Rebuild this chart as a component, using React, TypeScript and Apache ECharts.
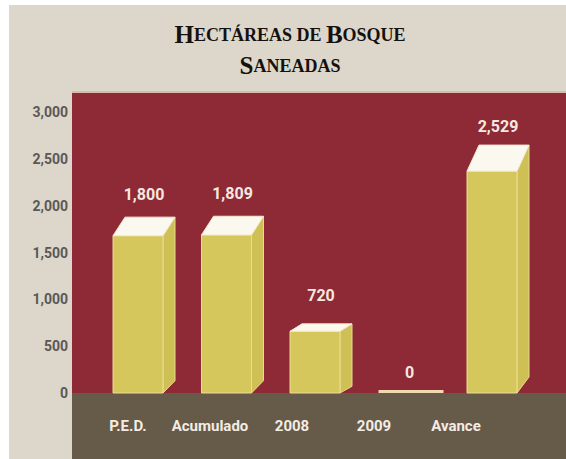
import React, { useEffect, useRef } from "react";
import * as echarts from "echarts";

const categories = ["P.E.D.", "Acumulado", "2008", "2009", "Avance"];
const values = [1800, 1809, 720, 0, 2529];
const yMin = 0;
const yMax = 3000;
const yStep = 500;

const SANS = "Roboto, 'Liberation Sans', sans-serif";
const SERIF = "'Liberation Serif', 'DejaVu Serif', serif";

const fmt = (n: number) => n.toLocaleString("en-US");

export default function App() {
  const ref = useRef<HTMLDivElement>(null);
  useEffect(() => {
    document.body.style.margin = "0";
    const chart = echarts.init(ref.current!, null, { renderer: "svg" });
    const FW = 50;
    const DX = 12;
    chart.setOption({
      animation: false,
      backgroundColor: "#ffffff",
      graphic: [
        { type: "rect", z: -10, shape: { x: 9, y: 5, width: 557, height: 454 }, style: { fill: "#ddd6ca" } },
        { type: "rect", z: -9, shape: { x: 72, y: 91, width: 494, height: 3 }, style: { fill: "#d9b9ab" } },
        { type: "rect", z: -9, shape: { x: 72, y: 93, width: 494, height: 300 }, style: { fill: "#8d2a36" } },
        { type: "rect", z: -9, shape: { x: 72, y: 393, width: 494, height: 66 }, style: { fill: "#665a49" } },
        {
          type: "text",
          z: 5,
          x: 290,
          y: 19,
          style: {
            text: "{b|H}{s|ECTÁREAS DE }{b|B}{s|OSQUE}\n{b|S}{s|ANEADAS}",
            align: "center",
            verticalAlign: "top",
            fill: "#15110e",
            rich: {
              b: { fontFamily: SERIF, fontWeight: "bold", fontSize: 25, lineHeight: 31, fill: "#15110e" },
              s: { fontFamily: SERIF, fontWeight: "bold", fontSize: 18, lineHeight: 31, fill: "#15110e" },
            },
          },
        },
      ],
      grid: [
        { left: 93.75, right: 29.75, top: 112, bottom: 66 },
        { left: 87, right: 69, top: 112, bottom: 66 },
      ],
      xAxis: [
        {
          type: "category",
          gridIndex: 0,
          data: categories,
          axisLine: { show: false },
          axisTick: { show: false },
          axisLabel: { show: false },
        },
        {
          type: "category",
          gridIndex: 1,
          data: categories,
          axisLine: { show: false },
          axisTick: { show: false },
          axisLabel: {
            interval: 0,
            margin: 25,
            color: "#f3ece4",
            fontFamily: SANS,
            fontWeight: "bold",
            fontSize: 15,
          },
        },
      ],
      yAxis: [
        {
          type: "value",
          gridIndex: 0,
          min: yMin,
          max: yMax,
          interval: yStep,
          axisLine: { show: false },
          axisTick: { show: false },
          splitLine: { show: false },
          axisLabel: {
            margin: 25.75,
            color: "#5a5856",
            fontFamily: SANS,
            fontWeight: "bold",
            fontSize: 14,
            formatter: (v: number) => fmt(v),
          },
        },
        { type: "value", gridIndex: 1, min: 0, max: 1, show: false },
      ],
      series: [
        {
          type: "custom",
          xAxisIndex: 0,
          yAxisIndex: 0,
          clip: false,
          data: values.map((v, i) => [i, v]),
          renderItem: (params: any, api: any) => {
            const i = api.value(0);
            const v = api.value(1);
            const top = api.coord([i, v]);
            const base = api.coord([i, 0]);
            const x0 = top[0] - FW / 2;
            const labelStyle = {
              text: fmt(v),
              x: x0 + (FW + DX) / 2,
              y: v === 0 ? top[1] - 21 : top[1] - 30,
              align: "center",
              verticalAlign: "middle",
              fill: "#f6e8e0",
              font: `bold 16px ${SANS}`,
            };
            if (v === 0) {
              return {
                type: "group",
                children: [
                  {
                    type: "rect",
                    shape: { x: x0, y: base[1] - 3, width: FW + DX + 3, height: 3 },
                    style: { fill: "#f0d9b0" },
                  },
                  { type: "text", style: labelStyle },
                ],
              };
            }
            const h = base[1] - top[1];
            const dy = 0.11 * h;
            const ft = top[1] + dy / 2 + 2;
            const bt = top[1] - dy / 2 + 2;
            const bottom = base[1];
            const dyb = dy * 0.5 + 3;
            return {
              type: "group",
              children: [
                {
                  type: "polygon",
                  shape: {
                    points: [
                      [x0 + FW, ft],
                      [x0 + FW + DX, bt],
                      [x0 + FW + DX, bottom - dyb],
                      [x0 + FW, bottom],
                    ],
                  },
                  style: { fill: "#cfc055", stroke: "#e6da8f", lineWidth: 1 },
                },
                {
                  type: "rect",
                  shape: { x: x0, y: ft, width: FW, height: bottom - ft },
                  style: { fill: "#d5c75c", stroke: "#e9dd95", lineWidth: 1 },
                },
                {
                  type: "polygon",
                  shape: {
                    points: [
                      [x0, ft],
                      [x0 + DX, bt],
                      [x0 + FW + DX, bt],
                      [x0 + FW, ft],
                    ],
                  },
                  style: { fill: "#fbf8f0", stroke: "#f3ead0", lineWidth: 1 },
                },
                { type: "text", style: labelStyle },
              ],
            };
          },
        },
      ],
    });
    return () => chart.dispose();
  }, []);
  return <div ref={ref} style={{ width: 566, height: 459 }} />;
}
